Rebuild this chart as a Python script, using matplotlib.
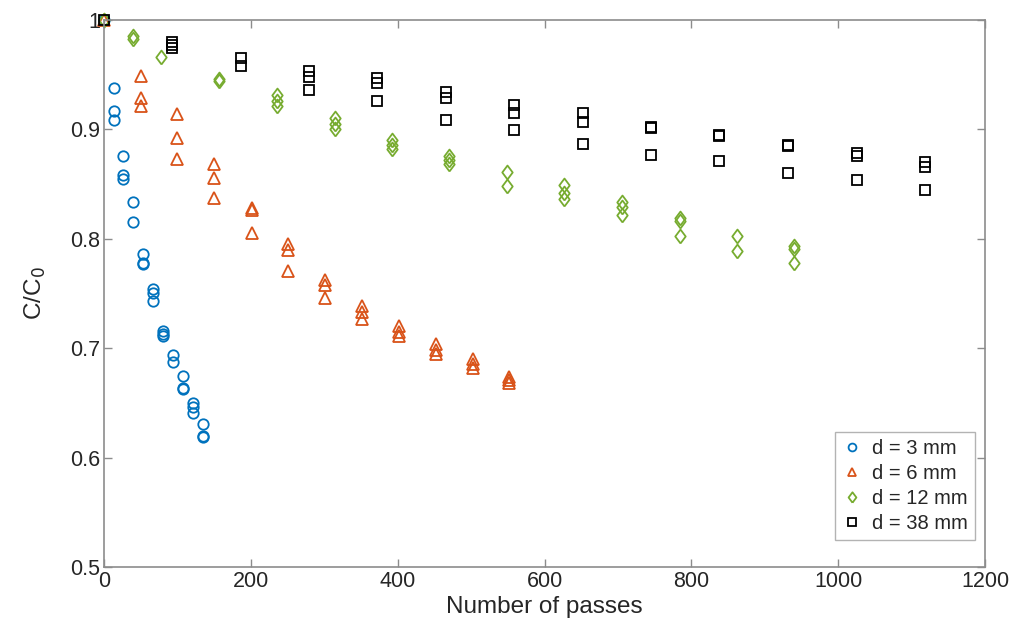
import numpy as np
import matplotlib.pyplot as plt

plt.rcParams['font.family'] = ['Liberation Sans', 'DejaVu Sans']

# d = 3 mm
x3 = [0, 13.6, 13.6, 13.6, 26.5, 26.5, 26.5, 40, 40, 53.6, 53.6, 53.6, 67, 67, 67,
      80.8, 80.8, 80.8, 94.4, 94.4, 108, 108, 108, 121.7, 121.7, 121.7, 135, 135, 135]
y3 = [1.0, 0.938, 0.917, 0.909, 0.876, 0.858, 0.855, 0.834, 0.815, 0.786, 0.778, 0.777,
      0.754, 0.750, 0.743, 0.716, 0.713, 0.711, 0.694, 0.687, 0.675, 0.664, 0.663,
      0.650, 0.646, 0.641, 0.631, 0.620, 0.619]

# d = 6 mm
x6 = [0, 50, 50, 50, 100, 100, 100, 150, 150, 150, 201, 201, 201, 251, 251, 251,
      301, 301, 301, 351, 351, 351, 402, 402, 402, 452, 452, 452, 502, 502, 502,
      552, 552, 552]
y6 = [1.0, 0.949, 0.929, 0.921, 0.914, 0.892, 0.873, 0.868, 0.856, 0.837, 0.828, 0.826,
      0.805, 0.795, 0.790, 0.771, 0.762, 0.758, 0.746, 0.739, 0.733, 0.727, 0.720,
      0.715, 0.711, 0.704, 0.698, 0.695, 0.690, 0.686, 0.682, 0.674, 0.671, 0.668]

# d = 12 mm
x12 = [0, 39, 39, 78, 157, 157, 235, 235, 235, 314, 314, 314, 392, 392, 392,
       470, 470, 470, 549, 549, 627, 627, 627, 705, 705, 705, 784, 784, 784,
       862, 862, 940, 940, 940]
y12 = [1.0, 0.985, 0.983, 0.966, 0.946, 0.944, 0.931, 0.926, 0.921, 0.910, 0.905, 0.900,
       0.890, 0.886, 0.882, 0.876, 0.872, 0.868, 0.861, 0.848, 0.849, 0.842, 0.836,
       0.834, 0.829, 0.822, 0.819, 0.816, 0.803, 0.803, 0.789, 0.793, 0.791, 0.778]

# d = 38 mm
x38 = [0, 93, 93, 93, 186, 186, 279, 279, 279, 372, 372, 372, 466, 466, 466,
       559, 559, 559, 652, 652, 652, 745, 745, 745, 838, 838, 838, 932, 932, 932,
       1025, 1025, 1025, 1118, 1118, 1118]
y38 = [1.0, 0.980, 0.977, 0.974, 0.965, 0.958, 0.953, 0.948, 0.936, 0.947, 0.942, 0.926,
       0.934, 0.929, 0.909, 0.922, 0.915, 0.899, 0.915, 0.907, 0.887, 0.902, 0.901,
       0.877, 0.895, 0.894, 0.871, 0.886, 0.885, 0.860, 0.878, 0.876, 0.854,
       0.870, 0.866, 0.845]

fig = plt.figure(figsize=(10.14, 6.3), dpi=100)
ax = fig.add_axes([0.1026, 0.1, 0.8688, 0.8683])

# matlab-like diamond, a bit wider than 'd'
diamond = [(0, -1), (0.75, 0), (0, 1), (-0.75, 0), (0, -1)]

ms = 7.5
mew = 1.3
kw = dict(ls='none', mfc='none', mew=mew, clip_on=False)
ax.plot(x3, y3, 'o', mec='#0072BD', ms=ms, label='d = 3 mm', **kw)
ax.plot(x6, y6, '^', mec='#D95319', ms=ms + 0.5, label='d = 6 mm', **kw)
ax.plot(x12, y12, marker=diamond, mec='#77AC30', ms=ms + 2.5, label='d = 12 mm', **kw)
ax.plot(x38, y38, 's', mec='black', ms=ms - 0.5, label='d = 38 mm', **kw)

ax.set_xlim(0, 1200)
ax.set_ylim(0.5, 1.0)
ax.set_xticks(np.arange(0, 1201, 200))
ax.set_yticks([0.5, 0.6, 0.7, 0.8, 0.9, 1.0])
ax.set_yticklabels(['0.5', '0.6', '0.7', '0.8', '0.9', '1'])

for s in ax.spines.values():
    s.set_color('#8c8c8c')
    s.set_linewidth(1.2)
ax.tick_params(direction='in', length=6, width=1, color='#8c8c8c',
               top=True, right=True, labelsize=15.5, labelcolor='#262626', pad=3)

ax.set_xlabel('Number of passes', fontsize=17.5, color='#262626', labelpad=3)
ax.set_ylabel('C/C$_0$', fontsize=17.5, color='#262626', labelpad=16)

leg = ax.legend(loc='lower right', fontsize=14.5, frameon=True, fancybox=False,
                edgecolor='#a0a0a0', handletextpad=0.5, borderpad=0.35,
                labelspacing=0.3, handlelength=1.0, markerscale=0.75,
                borderaxespad=0, bbox_to_anchor=(0.9886, 0.049))
leg.get_frame().set_linewidth(1.0)
for t in leg.get_texts():
    t.set_color('#262626')

fig.savefig('out.png', dpi=100)
